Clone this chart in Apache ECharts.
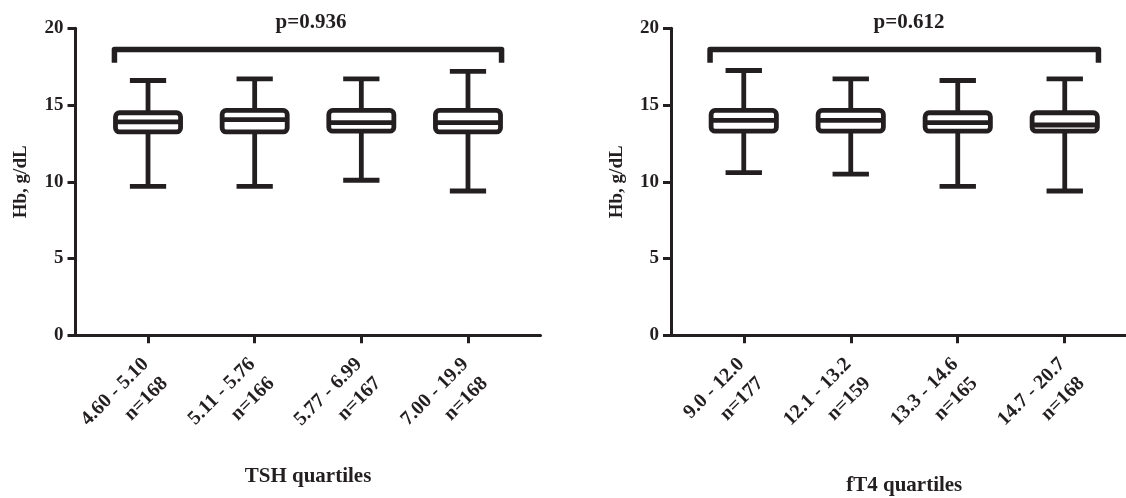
<!DOCTYPE html>
<html>
<head>
<meta charset="utf-8">
<script src="https://cdn.jsdelivr.net/npm/echarts@6/dist/echarts.min.js"></script>
<style>
html,body{margin:0;padding:0;background:#fff;}
#chart{width:1126px;height:498px;}
</style>
</head>
<body>
<div id="chart"></div>
<script>
// ---- Data ----
const tshLabels = ['4.60 - 5.10\nn=168', '5.11 - 5.76\nn=166', '5.77 - 6.99\nn=167', '7.00 - 19.9\nn=168'];
const tshMin    = [9.7, 9.7, 10.1, 9.4];
const tshQ1     = [13.25, 13.25, 13.3, 13.25];
const tshMedian = [13.9, 14.05, 13.85, 13.85];
const tshQ3     = [14.5, 14.65, 14.65, 14.65];
const tshMax    = [16.6, 16.7, 16.7, 17.2];
const tshP      = 'p=0.936';

const ft4Labels = ['9.0 - 12.0\nn=177', '12.1 - 13.2\nn=159', '13.3 - 14.6\nn=165', '14.7 - 20.7\nn=168'];
const ft4Min    = [10.6, 10.5, 9.7, 9.4];
const ft4Q1     = [13.3, 13.3, 13.3, 13.3];
const ft4Median = [14.0, 14.0, 13.85, 13.7];
const ft4Q3     = [14.65, 14.65, 14.5, 14.5];
const ft4Max    = [17.25, 16.7, 16.6, 16.7];
const ft4P      = 'p=0.612';

// bracket spanning all four groups
const bracketTop  = 18.62;
const bracketDrop = 17.76;

const categoryPositions = [1, 2, 3, 4];

// ---- Styling ----
const INK = '#231f20';
const FONT = '"Liberation Serif", "Times New Roman", serif';

function boxData(mins, q1, med, q3, maxs) {
  return categoryPositions.map((p, i) => [p, mins[i], q1[i], med[i], q3[i], maxs[i]]);
}

function renderBox(params, api) {
  const x = api.value(0);
  const pMin = api.coord([x, api.value(1)]);
  const pQ1 = api.coord([x, api.value(2)]);
  const pMed = api.coord([x, api.value(3)]);
  const pQ3 = api.coord([x, api.value(4)]);
  const pMax = api.coord([x, api.value(5)]);
  const bw = api.size([0.61, 0])[0];
  const cw = api.size([0.34, 0])[0];
  const cx = pMed[0];
  const lw = 4.8;
  const st = { stroke: INK, lineWidth: lw, fill: null, lineCap: 'butt' };
  return {
    type: 'group',
    children: [
      { type: 'line', shape: { x1: cx, y1: pMax[1], x2: cx, y2: pQ3[1] }, style: st },
      { type: 'line', shape: { x1: cx, y1: pQ1[1], x2: cx, y2: pMin[1] }, style: st },
      { type: 'line', shape: { x1: cx - cw / 2, y1: pMax[1], x2: cx + cw / 2, y2: pMax[1] }, style: st },
      { type: 'line', shape: { x1: cx - cw / 2, y1: pMin[1], x2: cx + cw / 2, y2: pMin[1] }, style: st },
      { type: 'rect', shape: { x: cx - bw / 2, y: pQ3[1], width: bw, height: pQ1[1] - pQ3[1], r: 4 },
        style: { stroke: INK, lineWidth: lw, fill: '#fff' } },
      { type: 'line', shape: { x1: cx - bw / 2, y1: pMed[1], x2: cx + bw / 2, y2: pMed[1] }, style: st }
    ]
  };
}

function renderBracket(params, api) {
  const a = api.coord([api.value(0) - 0.315, api.value(3)]);
  const b = api.coord([api.value(0) - 0.315, api.value(2)]);
  const c = api.coord([api.value(1) + 0.315, api.value(2)]);
  const d = api.coord([api.value(1) + 0.315, api.value(3)]);
  return {
    type: 'polyline',
    shape: { points: [a, b, c, d] },
    style: { stroke: INK, lineWidth: 5.5, fill: null, lineJoin: 'round', lineCap: 'butt' }
  };
}

function xAxisFor(gridIndex, labels, name, nameGap) {
  const tokenStyle = { color: INK, fontFamily: FONT, fontWeight: 'bold', fontSize: 20 };
  return {
    type: 'value', gridIndex, min: 0.32, max: 4.68,
    splitLine: { show: false },
    axisLine: { show: true, onZero: false, lineStyle: { color: INK, width: 3 } },
    axisTick: { show: true, customValues: categoryPositions, length: 8, lineStyle: { color: INK, width: 3 } },
    axisLabel: {
      customValues: categoryPositions,
      formatter: (v) => {
        const parts = labels[Math.round(v) - 1].split('\n');
        return '{a|' + parts[0] + '}\n{b|' + parts[1] + '}';
      },
      rotate: 45, margin: 20, align: 'right', verticalAlign: 'top',
      color: INK, fontFamily: FONT, fontWeight: 'bold', fontSize: 20,
      rich: {
        a: Object.assign({ lineHeight: 5, padding: [0, 6, 0, 0] }, tokenStyle),
        b: Object.assign({ lineHeight: 49, padding: [0, 6, 0, 0] }, tokenStyle)
      }
    },
    name, nameLocation: 'middle', nameGap,
    nameTextStyle: { color: INK, fontFamily: FONT, fontWeight: 'bold', fontSize: 21 }
  };
}

function yAxisFor(gridIndex, nameGap) {
  return {
    type: 'value', gridIndex, min: 0, max: 20, interval: 5,
    splitLine: { show: false },
    axisLine: { show: true, onZero: false, lineStyle: { color: INK, width: 3 } },
    axisTick: { show: true, length: 8, lineStyle: { color: INK, width: 3 } },
    axisLabel: { margin: 12, color: INK, fontFamily: FONT, fontWeight: 'bold', fontSize: 19 },
    name: 'Hb, g/dL', nameLocation: 'middle', nameGap, nameRotate: 90,
    nameTextStyle: { color: INK, fontFamily: FONT, fontWeight: 'bold', fontSize: 19 }
  };
}

const chart = echarts.init(document.getElementById('chart'), null, { renderer: 'canvas' });
chart.setOption({
  backgroundColor: '#fff',
  animation: false,
  title: [
    { text: tshP, left: 306, top: 7, textAlign: 'center',
      textStyle: { color: INK, fontFamily: FONT, fontWeight: 'bold', fontSize: 21 } },
    { text: ft4P, left: 904, top: 7, textAlign: 'center',
      textStyle: { color: INK, fontFamily: FONT, fontWeight: 'bold', fontSize: 21 } }
  ],
  grid: [
    { left: 75.5, top: 28.3, width: 465, height: 307, containLabel: false, outerBoundsMode: 'none' },
    { left: 671, top: 28.3, width: 466.5, height: 307, containLabel: false, outerBoundsMode: 'none' }
  ],
  xAxis: [
    xAxisFor(0, tshLabels, 'TSH quartiles', 131),
    xAxisFor(1, ft4Labels, 'fT4 quartiles', 140)
  ],
  yAxis: [
    yAxisFor(0, 45),
    yAxisFor(1, 44)
  ],
  series: [
    { type: 'custom', xAxisIndex: 0, yAxisIndex: 0, renderItem: renderBox,
      data: boxData(tshMin, tshQ1, tshMedian, tshQ3, tshMax) },
    { type: 'custom', xAxisIndex: 0, yAxisIndex: 0, renderItem: renderBracket,
      data: [[categoryPositions[0], categoryPositions[3], bracketTop, bracketDrop]] },
    { type: 'custom', xAxisIndex: 1, yAxisIndex: 1, renderItem: renderBox,
      data: boxData(ft4Min, ft4Q1, ft4Median, ft4Q3, ft4Max) },
    { type: 'custom', xAxisIndex: 1, yAxisIndex: 1, renderItem: renderBracket,
      data: [[categoryPositions[0], categoryPositions[3], bracketTop, bracketDrop]] }
  ]
});
</script>
</body>
</html>
